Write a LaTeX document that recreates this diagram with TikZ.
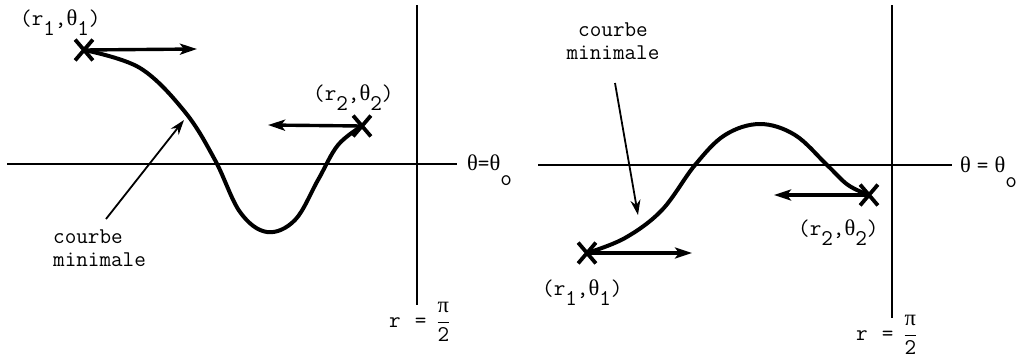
\documentclass[tikz,border=0pt]{standalone}
\usepackage{fontspec}
\newfontfamily\grk{Liberation Serif}
\usetikzlibrary{arrows.meta,shapes.misc}

\newcommand{\low}[1]{\raisebox{-0.45em}{#1}}
\newcommand{\lowo}[1]{\raisebox{-0.68em}{#1}}
\newcommand{\tht}{{\grk θ}}
\newcommand{\halfpi}{$\displaystyle\frac{\mbox{\grk π}}{\mbox{2}}$}

\begin{document}
\begin{tikzpicture}[
		x=1pt, y=-1pt,
		axis/.style={draw, line width=1.8pt},
		wall/.style={draw, line width=2.6pt},
		curve/.style={draw, line width=4pt, line cap=round, line join=round},
		vec/.style={draw, line width=3.4pt, -{Stealth[length=17pt,width=11pt,inset=4pt]}},
		pointer/.style={draw, line width=1.8pt, -{Stealth[length=15pt,width=10pt]}},
		xmark/.style={cross out, draw, line width=3.8pt, minimum width=14pt, minimum height=17pt, inner sep=0pt},
		txt/.style={font=\ttfamily\fontsize{22.5}{23}\selectfont, inner sep=0pt}
	]

	\useasboundingbox (0,0) rectangle (1021,360);

	% Left panel: axes
	\draw[axis] (7,164) -- (457,164);
	\draw[wall] (417,5) -- (417,305);
	\node[txt, anchor=base west] (thA) at (467,170) {\tht=\tht\lowo{o}};
	\node[txt, anchor=base west] (rA) at (389,327) {r\kern14pt=\kern10pt\halfpi};

	% Left panel: end points
	\node[xmark] (A1) at (84,50) {};
	\node[xmark] (A2) at (362,126) {};
	\coordinate (A1v) at (197,49);
	\coordinate (A2v) at (268,125);
	\node[txt, anchor=base west] (lA1) at (20,25) {(r\low{1},\tht\low{1})};
	\node[txt, anchor=base west] (lA2) at (313,100) {(r\low{2},\tht\low{2})};

	% Left panel: curve
	\draw[curve] plot[smooth, tension=0.6] coordinates {
			(A1.center) (140,68) (185,112) (215,160) (240,212) (267,232)
			(295,220) (318,180) (338,145) (A2.center)
		};
	\draw[vec] (A1.center) -- (A1v);
	\draw[vec] (A2.center) -- (A2v);

	% Left panel: label
	\node[txt, align=left, anchor=north west] (cmA) at (53,230) {courbe\\minimale};
	\coordinate (pA) at (106,219);
	\coordinate (pAtip) at (184,120);
	\draw[pointer] (pA) -- (pAtip);

	% Right panel: axes
	\draw[axis] (538,165) -- (952,165);
	\draw[wall] (892,5) -- (892,318);
	\node[txt, anchor=base west] (thB) at (960,172) {\tht\kern6pt=\kern6pt\tht\lowo{o}};
	\node[txt, anchor=base west] (rB) at (856,340) {r\kern14pt=\kern10pt\halfpi};

	% Right panel: end points
	\node[xmark] (B1) at (587,253) {};
	\node[xmark] (B2) at (869,195) {};
	\coordinate (B1v) at (692,253);
	\coordinate (B2v) at (774,195);
	\node[txt, anchor=base west] (lB1) at (542,295) {(r\low{1},\tht\low{1})};
	\node[txt, anchor=base west] (lB2) at (798,235) {(r\low{2},\tht\low{2})};

	% Right panel: curve
	\draw[curve] plot[smooth, tension=0.6] coordinates {
			(B1.center) (625,238) (662,210) (695,165) (725,135) (760,124)
			(795,135) (827,165) (848,185) (B2.center)
		};
	\draw[vec] (B1.center) -- (B1v);
	\draw[vec] (B2.center) -- (B2v);

	% Right panel: label
	\node[txt, align=center, anchor=north] (cmB) at (613,23) {courbe\\minimale};
	\coordinate (pB) at (615,83);
	\coordinate (pBtip) at (638,215);
	\draw[pointer] (pB) -- (pBtip);

\end{tikzpicture}
\end{document}
